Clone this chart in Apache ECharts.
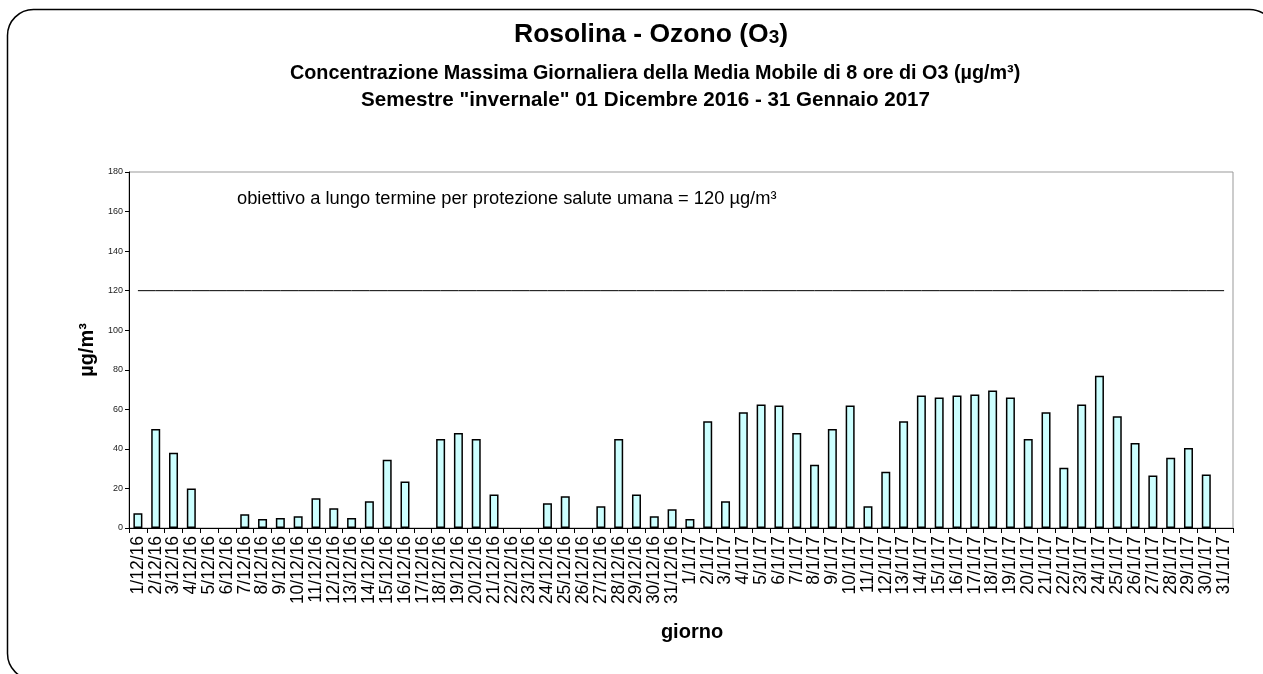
<!DOCTYPE html>
<html>
<head>
<meta charset="utf-8">
<script src="https://cdn.jsdelivr.net/npm/echarts@6/dist/echarts.min.js"></script>
<style>
html,body{margin:0;padding:0;background:#fff;}
#c{width:1263px;height:674px;}
</style>
</head>
<body>
<div id="c"></div>
<script>
const days = ["1/12/16","2/12/16","3/12/16","4/12/16","5/12/16","6/12/16","7/12/16","8/12/16","9/12/16","10/12/16",
"11/12/16","12/12/16","13/12/16","14/12/16","15/12/16","16/12/16","17/12/16","18/12/16","19/12/16","20/12/16",
"21/12/16","22/12/16","23/12/16","24/12/16","25/12/16","26/12/16","27/12/16","28/12/16","29/12/16","30/12/16","31/12/16",
"1/1/17","2/1/17","3/1/17","4/1/17","5/1/17","6/1/17","7/1/17","8/1/17","9/1/17","10/1/17",
"11/1/17","12/1/17","13/1/17","14/1/17","15/1/17","16/1/17","17/1/17","18/1/17","19/1/17","20/1/17",
"21/1/17","22/1/17","23/1/17","24/1/17","25/1/17","26/1/17","27/1/17","28/1/17","29/1/17","30/1/17","31/1/17"];
const ozone = [7.5,50,38,20,null,null,7,4.5,5,6,
15,10,5,13.5,34.5,23.5,null,45,48,45,
17,null,null,12.5,16,null,11,45,17,6,9.5,
4.5,54,13.5,58.5,62.5,62,48,32,50,62,
11,28.5,54,67,66,67,67.5,69.5,66,45,
58.5,30.5,62.5,77,56.5,43,26.5,35.5,40.5,27,null];
const targetValue = 120;
const target = days.map(() => targetValue);
const yTicks = {min: 0, max: 180, interval: 20};

const chart = echarts.init(document.getElementById('c'), null, {renderer: 'canvas'});
const F = 'Liberation Sans, Arial, sans-serif';
chart.setOption({
  animation: false,
  backgroundColor: '#fff',
  title: [
    {text: '{a|Rosolina - Ozono (O}{b|3}{a|)}', left: 509, top: 16,
     textStyle: {rich: {a: {fontFamily: F, fontSize: 26.5, fontWeight: 'bold', color: '#000'},
                        b: {fontFamily: F, fontSize: 19, fontWeight: 'bold', color: '#000', padding: [7,0,0,0]}}}},
    {text: 'Concentrazione Massima Giornaliera della Media Mobile di 8 ore di O3 (µg/m³)', left: 285, top: 59,
     textStyle: {fontFamily: F, fontSize: 19.8, fontWeight: 'bold', color: '#000'}},
    {text: 'Semestre "invernale" 01 Dicembre 2016 - 31 Gennaio 2017', left: 356, top: 85,
     textStyle: {fontFamily: F, fontSize: 20.6, fontWeight: 'bold', color: '#000'}}
  ],
  graphic: [
    {type: 'rect', shape: {x: 7.5, y: 9.5, width: 1268, height: 670, r: 26},
     style: {fill: 'none', stroke: '#000', lineWidth: 1.5}, silent: true, z: -1},
    {type: 'text', left: 237, top: 190,
     style: {text: 'obiettivo a lungo termine per protezione salute umana = 120 µg/m³', fontFamily: F, fontSize: 18.3, fill: '#000'}}
  ],
  grid: {left: 129, right: 30, top: 172, bottom: 146, show: true, borderColor: '#999', borderWidth: 1, backgroundColor: 'transparent'},
  xAxis: {
    type: 'category', data: days, boundaryGap: true,
    name: 'giorno', nameLocation: 'middle', nameGap: 94,
    nameTextStyle: {fontFamily: F, fontSize: 20, fontWeight: 'bold', color: '#000', padding: [0, 0, 0, 22]},
    axisLine: {lineStyle: {color: '#000', width: 1}},
    axisTick: {show: true, interval: 0, length: 5, lineStyle: {color: '#000'}},
    axisLabel: {interval: 0, rotate: 90, fontFamily: F, fontSize: 17.5, color: '#000', margin: 8}
  },
  yAxis: {
    type: 'value', min: yTicks.min, max: yTicks.max, interval: yTicks.interval,
    name: 'µg/m³', nameLocation: 'middle', nameGap: 32,
    nameTextStyle: {fontFamily: F, fontSize: 20, fontWeight: 'bold', color: '#000'},
    axisLine: {show: true, lineStyle: {color: '#000', width: 1}},
    axisTick: {show: true, length: 4, lineStyle: {color: '#000'}},
    splitLine: {show: false},
    axisLabel: {fontFamily: F, fontSize: 9, color: '#222', margin: 6}
  },
  series: [
    {type: 'bar', data: ozone, barWidth: 9,
     itemStyle: {color: '#ccffff', borderColor: '#000', borderWidth: 1.5}},
    {type: 'line', data: target, symbol: 'none', silent: true,
     lineStyle: {color: '#000', width: 1}, z: 3}
  ]
});
</script>
</body>
</html>
